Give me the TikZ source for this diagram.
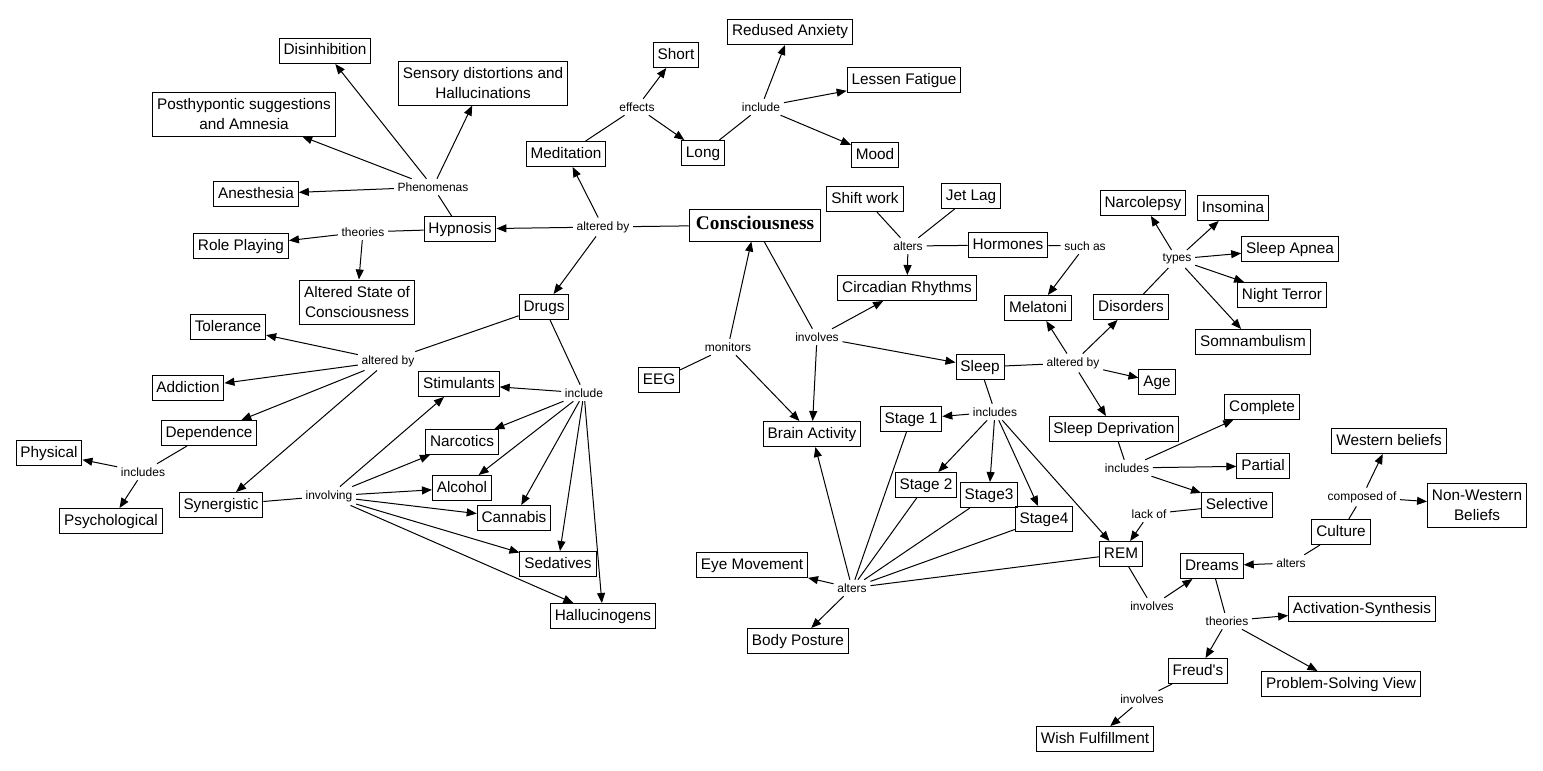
\documentclass[tikz,border=0pt]{standalone}
\usepackage{fontspec}
\setmainfont{Liberation Sans}
\newfontfamily\titlefont{Liberation Serif}
\usetikzlibrary{arrows.meta}
\tikzset{
  concept/.style={draw, line width=0.75pt, inner xsep=3.3pt, inner ysep=0pt, minimum height=18.75pt,
    text height=8.6pt, text depth=2.6pt, align=center, font=\fontsize{11.5}{15}\selectfont},
  twoline/.style={text height={}, text depth={}, minimum height=33pt},
  lnk/.style={inner sep=2.5pt, font=\fontsize{9}{10}\selectfont},
  arr/.style={-{Triangle[length=7.5pt,width=6pt]}},
}
\begin{document}
\begin{tikzpicture}[x=0.75pt,y=-0.75pt, line width=0.75pt]
\fill[white] (0,0) rectangle (1543,771); % canvas, same size as the map

% the main concept
\node[concept, font=\fontsize{14.5}{16}\selectfont\titlefont\bfseries, inner xsep=5pt, minimum height=24pt, text height=10pt, text depth=3pt] (consc) at (755,225) {Consciousness};

% hypnosis part
\node[concept] (dis) at (325,51) {Disinhibition};
\node[concept, twoline] (sens) at (483,83) {Sensory distortions and\\Hallucinations};
\node[concept, twoline] (post) at (244,114) {Posthypontic suggestions\\and Amnesia};
\node[concept] (anes) at (256,194) {Anesthesia};
\node[concept] (hyp) at (460,229) {Hypnosis};
\node[concept] (role) at (241,246) {Role Playing};
\node[concept, twoline] (asc) at (357,302) {Altered State of\\Consciousness};
\node[lnk] (phen) at (433,187) {Phenomenas};
\node[lnk] (theo1) at (363,232) {theories};

% meditation part
\node[concept] (med) at (566,154) {Meditation};
\node[concept] (short) at (676,55) {Short};
\node[concept] (long) at (703,153) {Long};
\node[concept] (anx) at (790,32) {Redused Anxiety};
\node[concept] (fat) at (904,80) {Lessen Fatigue};
\node[concept] (mood) at (875,155) {Mood};
\node[lnk] (eff) at (637,107) {effects};
\node[lnk] (incl1) at (761,107) {include};
\node[lnk] (alt1) at (603,227) {altered by};

% drugs part
\node[concept] (drugs) at (544,307) {Drugs};
\node[concept] (tol) at (228,327) {Tolerance};
\node[concept] (addi) at (188,388) {Addiction};
\node[concept] (dep) at (209,433) {Dependence};
\node[concept] (phys) at (49,453) {Physical};
\node[concept] (psy) at (111,521) {Psychological};
\node[concept] (syn) at (221,505) {Synergistic};
\node[concept] (stim) at (459,384) {Stimulants};
\node[concept] (narc) at (462,442) {Narcotics};
\node[concept] (alc) at (462,488) {Alcohol};
\node[concept] (can) at (514,518) {Cannabis};
\node[concept] (sed) at (558,564) {Sedatives};
\node[concept] (hall) at (603,616) {Hallucinogens};
\node[lnk] (alt2) at (388,361) {altered by};
\node[lnk] (incl2) at (584,393) {include};
\node[lnk] (incs1) at (143,472) {includes};
\node[lnk] (invg) at (329,496) {involving};

% brain and rhythms
\node[concept] (eeg) at (659,380) {EEG};
\node[concept] (brain) at (812,434) {Brain Activity};
\node[concept] (shift) at (865,199) {Shift work};
\node[concept] (jet) at (971,196) {Jet Lag};
\node[concept] (horm) at (1008,245) {Hormones};
\node[concept] (circ) at (907,288) {Circadian Rhythms};
\node[concept] (mel) at (1038,308) {Melatoni};
\node[lnk] (mon) at (728,347) {monitors};
\node[lnk] (inv1) at (817,337) {involves};
\node[lnk] (alt3) at (908,246) {alters};
\node[lnk] (such) at (1085,246) {such as};

% sleep part
\node[concept] (sleep) at (980,367) {Sleep};
\node[concept] (disord) at (1131,307) {Disorders};
\node[concept] (narco) at (1143,203) {Narcolepsy};
\node[concept] (inso) at (1233,208) {Insomina};
\node[concept] (apnea) at (1290,249) {Sleep Apnea};
\node[concept] (night) at (1282,295) {Night Terror};
\node[concept] (somn) at (1253,342) {Somnambulism};
\node[concept] (age) at (1157,382) {Age};
\node[concept] (sdep) at (1114,429) {Sleep Deprivation};
\node[concept] (comp) at (1262,407) {Complete};
\node[concept] (part) at (1263,466) {Partial};
\node[concept] (sel) at (1237,505) {Selective};
\node[lnk] (types) at (1177,259) {types};
\node[lnk] (alt4) at (1073,363) {altered by};
\node[lnk] (incs3) at (1127,468) {includes};
\node[lnk] (lack) at (1149,514) {lack of};

% stages
\node[concept] (st1) at (911,419) {Stage 1};
\node[concept] (st2) at (926,485) {Stage 2};
\node[concept] (st3) at (989,495) {Stage3};
\node[concept] (st4) at (1044,519) {Stage4};
\node[concept] (rem) at (1121,554) {REM};
\node[concept] (eye) at (752,565) {Eye Movement};
\node[concept] (body) at (798,641) {Body Posture};
\node[lnk] (incs2) at (995,412) {includes};
\node[lnk] (alt5) at (852,588) {alters};

% dreams part
\node[concept] (west) at (1389,441) {Western beliefs};
\node[concept, twoline] (nonw) at (1477,505) {Non-Western\\Beliefs};
\node[concept] (cult) at (1341,532) {Culture};
\node[concept] (dream) at (1212,566) {Dreams};
\node[concept] (act) at (1362,609) {Activation-Synthesis};
\node[concept] (freud) at (1198,671) {Freud\textquotesingle s};
\node[concept] (prob) at (1341,684) {Problem-Solving View};
\node[concept] (wish) at (1095,739) {Wish Fulfillment};
\node[lnk] (comp2) at (1362,497) {composed of};
\node[lnk] (alt6) at (1291,563) {alters};
\node[lnk] (inv2) at (1152,606) {involves};
\node[lnk] (theo2) at (1227,621) {theories};
\node[lnk] (inv3) at (1142,699) {involves};

% connections
\draw (consc) -- (alt1);
\foreach \t in {hyp,med,drugs} \draw[arr] (alt1) -- (\t);
\draw (hyp) -- (phen);
\foreach \t in {dis,sens,post,anes} \draw[arr] (phen) -- (\t);
\draw (hyp) -- (theo1);
\foreach \t in {role,asc} \draw[arr] (theo1) -- (\t);
\draw (med) -- (eff);
\foreach \t in {short,long} \draw[arr] (eff) -- (\t);
\draw (long) -- (incl1);
\foreach \t in {anx,fat,mood} \draw[arr] (incl1) -- (\t);

\draw (drugs) -- (alt2);
\foreach \t in {tol,addi,dep,syn} \draw[arr] (alt2) -- (\t);
\draw (dep) -- (incs1);
\foreach \t in {phys,psy} \draw[arr] (incs1) -- (\t);
\draw (syn) -- (invg);
\draw (drugs) -- (incl2);
\foreach \t in {stim,narc,alc,can,sed,hall} {
  \draw[arr] (invg) -- (\t);
  \draw[arr] (incl2) -- (\t);
}

\draw (eeg) -- (mon);
\foreach \t in {consc,brain} \draw[arr] (mon) -- (\t);
\draw (consc) -- (inv1);
\foreach \t in {circ,sleep,brain} \draw[arr] (inv1) -- (\t);
\foreach \s in {shift,jet,horm} \draw (\s) -- (alt3);
\draw[arr] (alt3) -- (circ);
\draw (horm) -- (such);
\draw[arr] (such) -- (mel);

\draw (sleep) -- (alt4);
\foreach \t in {mel,disord,age,sdep} \draw[arr] (alt4) -- (\t);
\draw (disord) -- (types);
\foreach \t in {narco,inso,apnea,night,somn} \draw[arr] (types) -- (\t);
\draw (sdep) -- (incs3);
\foreach \t in {comp,part,sel} \draw[arr] (incs3) -- (\t);
\draw (sel) -- (lack);
\draw[arr] (lack) -- (rem);

\draw (sleep) -- (incs2);
\foreach \t in {st1,st2,st3,st4,rem} \draw[arr] (incs2) -- (\t);
\foreach \s in {st1,st2,st3,st4,rem} \draw (\s) -- (alt5);
\foreach \t in {eye,body,brain} \draw[arr] (alt5) -- (\t);

\draw (rem) -- (inv2);
\draw[arr] (inv2) -- (dream);
\draw (cult) -- (alt6);
\draw[arr] (alt6) -- (dream);
\draw (cult) -- (comp2);
\foreach \t in {west,nonw} \draw[arr] (comp2) -- (\t);
\draw (dream) -- (theo2);
\foreach \t in {act,freud,prob} \draw[arr] (theo2) -- (\t);
\draw (freud) -- (inv3);
\draw[arr] (inv3) -- (wish);
\end{tikzpicture}
\end{document}
